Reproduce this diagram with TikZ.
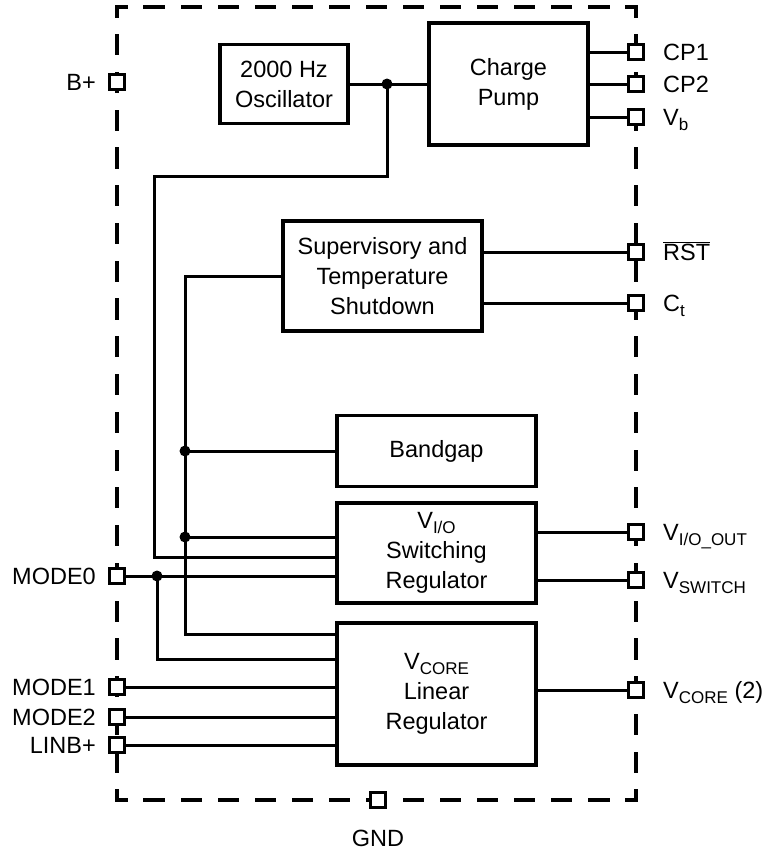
\documentclass[tikz,border=0pt]{standalone}
\usepackage{fontspec}
\setmainfont{Liberation Sans}
\newcommand{\sbs}[1]{\raisebox{-5pt}{\fontsize{17}{17}\selectfont #1}}
\begin{document}
\begin{tikzpicture}[x=1pt,y=-1pt,
  wire/.style={line width=3pt},
  blk/.style={draw, line width=3.3pt, align=center, inner sep=0pt, font=\fontsize{23.5}{30}\selectfont},
  pin/.style={draw, fill=white, line width=3.3pt, minimum size=15pt, inner sep=0pt},
  lbl/.style={inner sep=0pt, font=\fontsize{23.5}{28}\selectfont},
  jdot/.style={circle, fill, inner sep=0pt, minimum size=11pt},
  hborder/.style={line width=3.2pt, line cap=rect, dash pattern=on 18pt off 19.07pt, dash phase=9pt},
  vborder/.style={line width=3.2pt, line cap=rect, dash pattern=on 18pt off 19.76pt, dash phase=9pt}]
\useasboundingbox (0,0) rectangle (772,852);

% package outline
\coordinate (bTL) at (117,7);
\coordinate (bTR) at (636,7);
\coordinate (bBR) at (636,800);
\coordinate (bBL) at (117,800);
\draw[hborder] (bTL) -- (bTR);
\draw[hborder] (bBL) -- (bBR);
\draw[vborder] (bTL) -- (bBL);
\draw[vborder] (bTR) -- (bBR);

% blocks
\node[blk, minimum width=128pt, minimum height=79pt] (osc) at (284,84) {2000 Hz\\Oscillator};
\node[blk, minimum width=159pt, minimum height=122pt] (cp) at (508.5,84) {Charge\\Pump};
\node[blk, minimum width=199pt, minimum height=110pt] (sup) at (382.5,276) {Supervisory and\\Temperature\\Shutdown};
\node[blk, minimum width=199pt, minimum height=71pt] (bg) at (436.5,451) {Bandgap};
\node[blk, minimum width=199pt, minimum height=100pt] (vio) at (436.5,553) {V\sbs{I/O}\\Switching\\Regulator};
\node[blk, minimum width=199pt, minimum height=142pt] (vcore) at (436.5,694) {V\sbs{CORE}\\Linear\\Regulator};

% pins
\node[pin] (pB) at (117,82) {};
\node[pin] (pCP1) at (636,52) {};
\node[pin] (pCP2) at (636,84) {};
\node[pin] (pVb) at (636,117) {};
\node[pin] (pRST) at (636,252) {};
\node[pin] (pCt) at (636,303) {};
\node[pin] (pVIO) at (636,532) {};
\node[pin] (pVSW) at (636,580) {};
\node[pin] (pVC) at (636,690) {};
\node[pin] (pM0) at (117,576) {};
\node[pin] (pM1) at (117,687) {};
\node[pin] (pM2) at (117,717) {};
\node[pin] (pL) at (117,745) {};
\node[pin] (pG) at (378,800) {};

% junctions
\coordinate (jA) at (387,84);
\coordinate (c1) at (387,176);
\coordinate (c2) at (154,176);
\coordinate (c3) at (154,557);
\coordinate (c4) at (185,276);
\coordinate (c5) at (185,634);
\coordinate (jB) at (185,451);
\coordinate (jC) at (185,537);
\coordinate (jD) at (157,576);
\coordinate (c6) at (157,659);

% wires
\draw[wire] (osc.east) -- (jA) -- (cp.west);
\draw[wire] (jA) -- (c1) -- (c2) -- (c3) -- (c3 -| vio.west);
\draw[wire] (cp.east |- pCP1) -- (pCP1.west);
\draw[wire] (cp.east |- pCP2) -- (pCP2.west);
\draw[wire] (cp.east |- pVb) -- (pVb.west);
\draw[wire] (sup.east |- pRST) -- (pRST.west);
\draw[wire] (sup.east |- pCt) -- (pCt.west);
\draw[wire] (sup.west) -- (c4) -- (c5) -- (c5 -| vcore.west);
\draw[wire] (jB) -- (bg.west);
\draw[wire] (jC) -- (jC -| vio.west);
\draw[wire] (pM0.east) -- (pM0.east -| vio.west);
\draw[wire] (jD) -- (c6) -- (c6 -| vcore.west);
\draw[wire] (pM1.east) -- (pM1.east -| vcore.west);
\draw[wire] (pM2.east) -- (pM2.east -| vcore.west);
\draw[wire] (pL.east) -- (pL.east -| vcore.west);
\draw[wire] (vio.east |- pVIO) -- (pVIO.west);
\draw[wire] (vio.east |- pVSW) -- (pVSW.west);
\draw[wire] (vcore.east |- pVC) -- (pVC.west);

% dots
\node[jdot] (dA) at (jA) {};
\node[jdot] (dB) at (jB) {};
\node[jdot] (dC) at (jC) {};
\node[jdot] (dD) at (jD) {};

% labels
\node[lbl, anchor=base east] (tB) at (96,90.4) {B+};
\node[lbl, anchor=base east] (tM0) at (96,584.4) {MODE0};
\node[lbl, anchor=base east] (tM1) at (96,695.4) {MODE1};
\node[lbl, anchor=base east] (tM2) at (96,725.4) {MODE2};
\node[lbl, anchor=base east] (tL) at (96,753.4) {LINB+};
\node[lbl, anchor=base west] (tCP1) at (663,60.4) {CP1};
\node[lbl, anchor=base west] (tCP2) at (663,92.4) {CP2};
\node[lbl, anchor=base west] (tVb) at (663,125.4) {V\sbs{b}};
\node[lbl, anchor=base west] (tRST) at (663,260.4) {$\overline{\mbox{RST}}$};
\node[lbl, anchor=base west] (tCt) at (663,311.4) {C\sbs{t}};
\node[lbl, anchor=base west] (tVIO) at (663,540.4) {V\sbs{I/O\_OUT}};
\node[lbl, anchor=base west] (tVSW) at (663,588.4) {V\sbs{SWITCH}};
\node[lbl, anchor=base west] (tVC) at (663,698.4) {V\sbs{CORE} (2)};
\node[lbl, anchor=base] (tG) at (378,846) {GND};
\end{tikzpicture}
\end{document}
